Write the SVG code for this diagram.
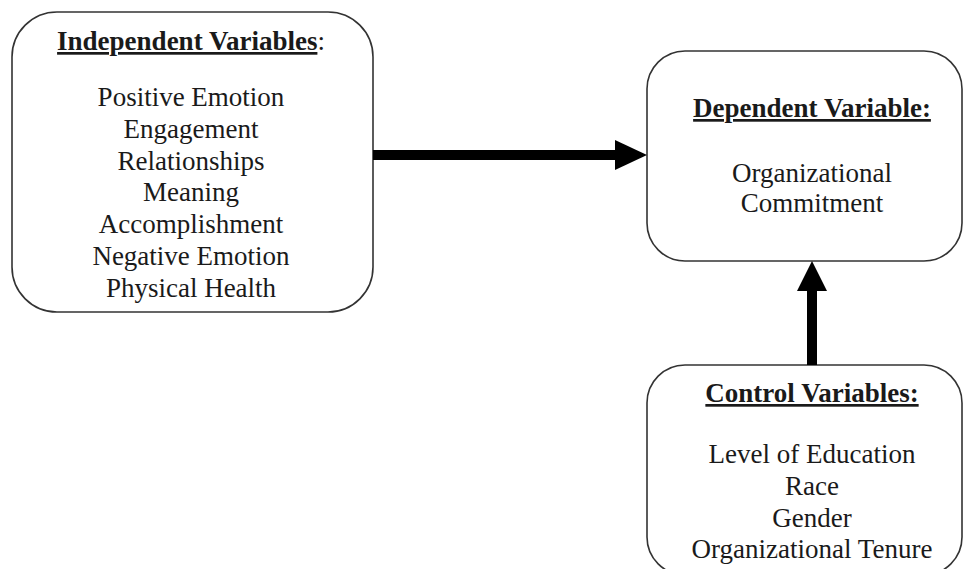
<svg xmlns="http://www.w3.org/2000/svg" width="964" height="569" viewBox="0 0 964 569">
<style>
.box{fill:#fff;stroke:#333;stroke-width:1.6}
text{font-family:"Liberation Serif","Times New Roman",serif;font-size:27px;fill:#1a1a1a;text-anchor:middle}
.t{font-weight:bold;text-decoration:underline}
.conn{stroke:#000;stroke-width:10;fill:none}
</style>
<rect width="964" height="569" fill="#fff"/>
<g id="independent">
<rect class="box" x="12" y="12" width="361" height="300" rx="45" ry="45"/>
<text x="191" y="50"><tspan class="t">Independent Variables</tspan>:</text>
<text x="191" y="106">Positive Emotion</text>
<text x="191" y="138">Engagement</text>
<text x="191" y="170">Relationships</text>
<text x="191" y="201">Meaning</text>
<text x="191" y="233">Accomplishment</text>
<text x="191" y="265">Negative Emotion</text>
<text x="191" y="297">Physical Health</text>
</g>
<g id="dependent">
<rect class="box" x="647" y="51" width="315" height="210" rx="38" ry="38"/>
<text x="812" y="117" class="t">Dependent Variable:</text>
<text x="812" y="182">Organizational</text>
<text x="812" y="212">Commitment</text>
</g>
<g id="control">
<rect class="box" x="647" y="365" width="315" height="210" rx="38" ry="38"/>
<text x="812" y="402" class="t">Control Variables:</text>
<text x="812" y="463">Level of Education</text>
<text x="812" y="495">Race</text>
<text x="812" y="527">Gender</text>
<text x="812" y="558">Organizational Tenure</text>
</g>
<g id="connectors">
<line class="conn" x1="373" y1="155" x2="617" y2="155"/>
<polygon points="615,140 647,155 615,170" fill="#000"/>
<line class="conn" x1="812" y1="365" x2="812" y2="289"/>
<polygon points="797,291 812,261 827,291" fill="#000"/>
</g>
</svg>
